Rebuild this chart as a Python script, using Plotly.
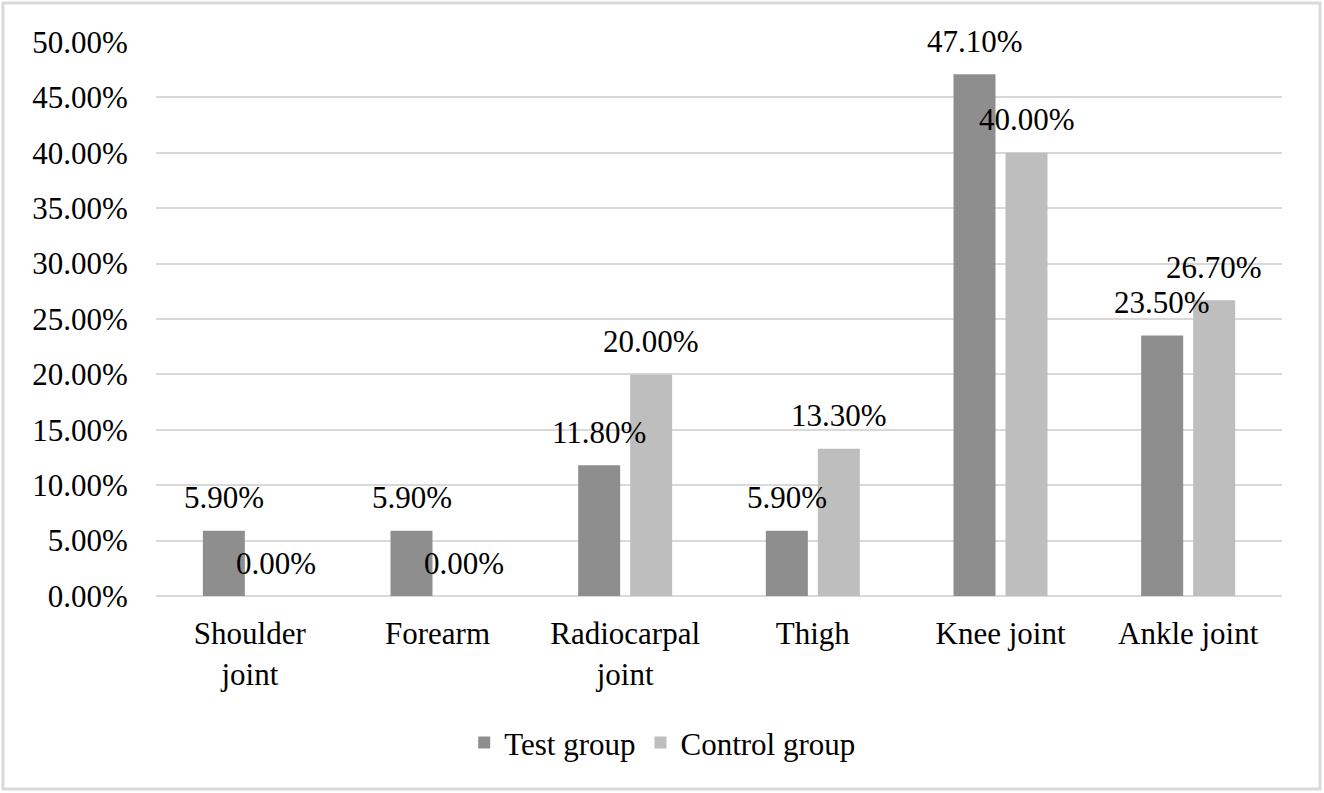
import plotly.graph_objects as go

categories = ["Shoulder<br>joint", "Forearm", "Radiocarpal<br>joint", "Thigh", "Knee joint", "Ankle joint"]
test_group = [0.059, 0.059, 0.118, 0.059, 0.471, 0.235]
control_group = [0.0, 0.0, 0.20, 0.133, 0.40, 0.267]
y_ticks = [0, 0.05, 0.10, 0.15, 0.20, 0.25, 0.30, 0.35, 0.40, 0.45, 0.50]

FONT = dict(family="Liberation Serif", size=31, color="#000000")
DARK = "#8e8e8e"
LIGHT = "#bebebe"

W, H = 1324, 793
ML, MR, MT, MB = 156, 42, 42, 197

fig = go.Figure()
fig.add_trace(go.Bar(name="Test group", x=categories, y=test_group, marker=dict(color=DARK, line=dict(width=0))))
fig.add_trace(go.Bar(name="Control group", x=categories, y=control_group, marker=dict(color=LIGHT, line=dict(width=0))))

annotations = []
for vals, shift in ((test_group, -26), (control_group, 26)):
    for c, v in zip(categories, vals):
        annotations.append(dict(x=c, y=v, xref="x", yref="y", text=f"{v*100:.2f}%",
                                showarrow=False, xshift=shift, yshift=33,
                                font=FONT, xanchor="center", yanchor="middle"))

pw = W - ML - MR
ph = H - MT - MB
fig.add_shape(type="rect", xref="paper", yref="paper",
              x0=-(ML - 3) / pw, x1=1 + (MR - 4) / pw,
              y0=-(MB - 4) / ph, y1=1 + (MT - 3) / ph,
              line=dict(color="#d9d9d9", width=3), layer="below")

fig.update_layout(
    width=W, height=H,
    margin=dict(l=ML, r=MR, t=MT, b=MB, autoexpand=False),
    paper_bgcolor="white", plot_bgcolor="white",
    font=FONT,
    barmode="group", bargap=0.446, bargroupgap=0.192,
    showlegend=True,
    legend=dict(orientation="h", x=0.45, xanchor="center", y=-0.265, yanchor="middle",
                font=FONT, itemwidth=30, traceorder="normal"),
    annotations=annotations,
    xaxis=dict(showgrid=False, showline=False, ticks="outside", ticklen=10, tickcolor="rgba(0,0,0,0)",
               tickfont=FONT, fixedrange=True),
    yaxis=dict(range=[0, 0.5], tickvals=y_ticks, tickformat=".2%", showgrid=True, gridcolor="#d9d9d9",
               gridwidth=1.5, zeroline=True, zerolinecolor="#d9d9d9", zerolinewidth=1.5,
               showline=False, ticks="outside", ticklen=21, tickcolor="rgba(0,0,0,0)", tickfont=FONT,
               fixedrange=True),
)

fig.write_html("out.html", config={"displayModeBar": False},
               post_script="document.body.style.margin='0';document.body.style.overflow='hidden';")
